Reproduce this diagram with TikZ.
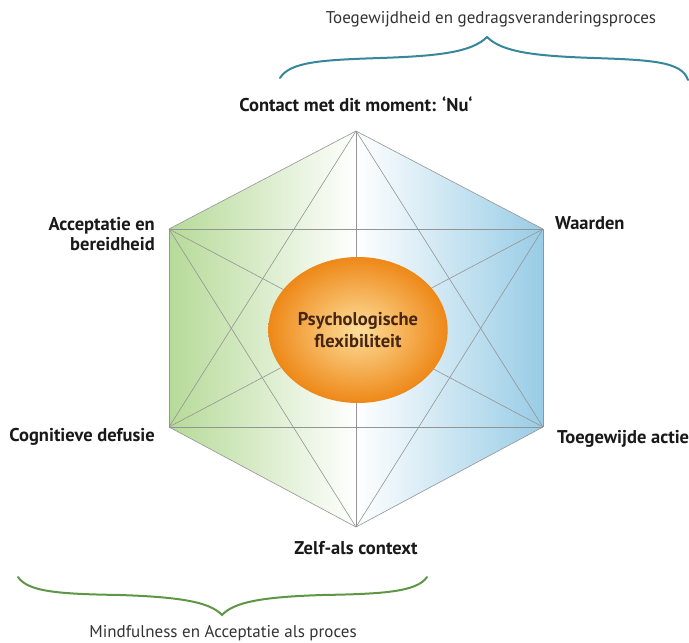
\documentclass[tikz,border=0pt]{standalone}
\usepackage{fontspec}
\setmainfont{PT Sans}
\usetikzlibrary{positioning,shapes.geometric}
\definecolor{hexgroen}{RGB}{182,218,152}
\definecolor{hexblauw}{RGB}{152,204,230}
\definecolor{kernoranje}{RGB}{238,136,24}
\definecolor{kernlicht}{RGB}{253,222,155}
\definecolor{kerntekst}{RGB}{70,38,18}
\definecolor{accgroen}{RGB}{95,150,70}
\definecolor{accteal}{RGB}{55,135,155}

\begin{document}
\begin{tikzpicture}[x=1pt, y=-1pt,
  hoeklabel/.style={font=\bfseries\fontsize{18.5}{20}\selectfont, text=black!90, inner sep=1pt},
  procestekst/.style={font=\fontsize{17}{19}\selectfont, text=black!80, inner sep=1pt},
  rib/.style={draw=black!42, line width=0.6pt},
  accolade/.style={line width=2pt, line cap=round}]

  \useasboundingbox (0,0) rectangle (689,643);

  %% hoekpunten van de hexaflex
  \coordinate (Nu)   at (356,131);
  \coordinate (Acc)  at (169,229);
  \coordinate (Waa)  at (543,229);
  \coordinate (Def)  at (169,427);
  \coordinate (Toe)  at (543,427);
  \coordinate (Zelf) at (356,527);

  \shade[left color=hexgroen, right color=hexblauw, middle color=white]
    (Nu) -- (Waa) -- (Toe) -- (Zelf) -- (Def) -- (Acc) -- cycle;

  %% alle verbindingen tussen de zes processen
  \foreach \a/\b in {Nu/Waa, Waa/Toe, Toe/Zelf, Zelf/Def, Def/Acc, Acc/Nu,
                     Nu/Def, Nu/Toe, Nu/Zelf, Acc/Waa, Def/Toe,
                     Acc/Zelf, Waa/Zelf, Acc/Toe, Waa/Def}
    \draw[rib] (\a) -- (\b);

  \node (kern) [ellipse, minimum width=174pt, minimum height=146pt,
    inner color=kernlicht, outer color=kernoranje, align=center,
    font=\bfseries\fontsize{18.5}{22}\selectfont, text=kerntekst] at (358,330)
    {Psychologische\\flexibiliteit};

  %% namen bij de hoekpunten
  \node[hoeklabel, anchor=base] (nulabel) at ([yshift=20pt]Nu) {Contact met dit moment: `Nu`};
  \node[hoeklabel, anchor=north east, align=right] (acclabel) at ([xshift=-13pt, yshift=13pt]Acc) {Acceptatie en\\bereidheid};
  \node[hoeklabel, anchor=west] (waalabel) at ([xshift=11pt, yshift=6pt]Waa) {Waarden};
  \node[hoeklabel, anchor=base east] (deflabel) at ([xshift=-13pt, yshift=-14pt]Def) {Cognitieve defusie};
  \node[hoeklabel, anchor=base west] (toelabel) at ([xshift=13pt, yshift=-16pt]Toe) {Toegewijde actie};
  \node[hoeklabel, anchor=base] (zelflabel) at ([yshift=-27pt]Zelf) {Zelf-als context};

  %% accolades
  \draw[accolade, accteal] (280,78) .. controls (290,62) and (320,60) .. (380,58)
    .. controls (440,56) and (472,52) .. (487,37)
    .. controls (502,52) and (534,56) .. (594,58)
    .. controls (654,60) and (682,62) .. (688,80);
  \node[procestekst, anchor=base] (toptekst) at (491,23) {Toegewijdheid en gedragsveranderingsproces};

  \draw[accolade, accgroen] (18,577) .. controls (28,592) and (60,594) .. (120,595)
    .. controls (180,597) and (210,602) .. (222,615)
    .. controls (234,602) and (262,597) .. (322,595)
    .. controls (382,594) and (417,592) .. (427,577);
  \node[procestekst, anchor=base] (ondertekst) at (223,637) {Mindfulness en Acceptatie als proces};
\end{tikzpicture}
\end{document}
